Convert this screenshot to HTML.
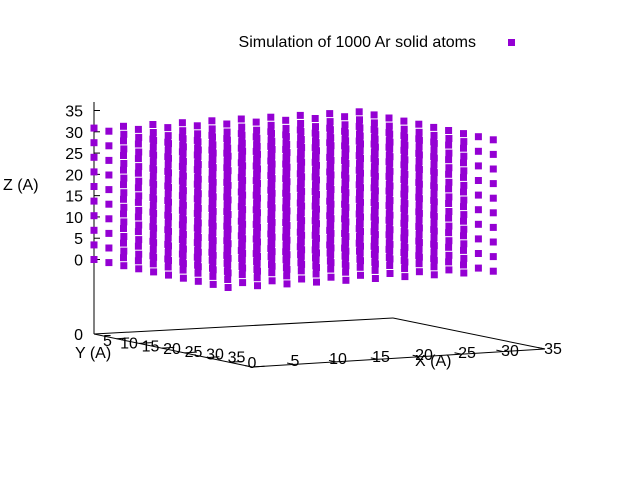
<!DOCTYPE html>
<html><head><meta charset="utf-8"><style>
html,body{margin:0;padding:0;background:#fff;}
svg{display:block;font-family:"Liberation Sans",sans-serif;font-size:16px;}
</style></head><body>
<svg id="chart" width="640" height="480" viewBox="0 0 640 480" xmlns="http://www.w3.org/2000/svg">
<rect width="640" height="480" fill="#fff"/>
<g id="axes" stroke="#000" stroke-width="1" fill="none">
<line x1="94" y1="334" x2="393" y2="318"/>
<line x1="393" y1="318" x2="545" y2="349"/>
<line x1="94" y1="334" x2="252" y2="367"/>
<line x1="252" y1="367" x2="545" y2="349"/>
<line x1="94" y1="334" x2="94" y2="102"/>
</g>
<g id="tickmarks" stroke="#000" stroke-width="1"></g>
<g id="ticks"></g>
<g id="points" fill="#9400d3"></g>
<text x="476" y="47" text-anchor="end">Simulation of 1000 Ar solid atoms</text>
<rect x="508" y="39" width="7" height="7" fill="#9400d3"/>
<text x="3" y="190">Z (A)</text>
<text x="75" y="358">Y (A)</text>
<text x="415" y="366">X (A)</text>
</svg>
<script>
const latticeSteps = [0,1,2,3,4,5,6,7,8,9];
const spacingX = [3.52];
const spacingY = [3.30];
const spacingZ = [3.43];
const xTicks = [0,5,10,15,20,25,30,35];
const yTicks = [5,10,15,20,25,30,35];
const zTicks = [0,5,10,15,20,25,30,35];

const NS="http://www.w3.org/2000/svg";
function sx(x,y){return 94 + x/35*293 + y/35*158;}
function sy(x,y,z){return 334 - x/35*18 + y/35*33 - (z+17.5)*4.257;}
const pts=document.getElementById('points');
for(const i of latticeSteps){for(const j of latticeSteps){for(const k of latticeSteps){
  const x=i*spacingX[0],y=j*spacingY[0],z=k*spacingZ[0];
  const r=document.createElementNS(NS,'rect');
  r.setAttribute('x',(sx(x,y)-3.5).toFixed(1));
  r.setAttribute('y',(sy(x,y,z)-3.5).toFixed(1));
  r.setAttribute('width','7');r.setAttribute('height','7');
  
  
  pts.appendChild(r);
}}}
const tk=document.getElementById('ticks');
const tm=document.getElementById('tickmarks');
function lbl(t,x,y,anchor,name){
  const e=document.createElementNS(NS,'text');
  e.setAttribute('x',x);e.setAttribute('y',y);e.setAttribute('text-anchor',anchor);
  e.textContent=t;
  
  
  tk.appendChild(e);
}
function tick(x1,y1,x2,y2,name){
  const l=document.createElementNS(NS,'line');
  l.setAttribute('x1',x1);l.setAttribute('y1',y1);l.setAttribute('x2',x2);l.setAttribute('y2',y2);
  
  
  tm.appendChild(l);
}
for(const z of zTicks){lbl(z,83,sy(0,0,z)+6,'end','z-tick-label');tick(94,sy(0,0,z),100,sy(0,0,z),'z-tick');}
lbl(0,83,340,'end','z-base-label');
for(const y of yTicks){lbl(y,86+y*4.3,343+y*0.55,'middle','y-tick-label');tick(sx(0,y),sy(0,y,-17.5),sx(1.5,y),sy(1.5,y,-17.5),'y-tick');}
for(const x of xTicks){lbl(x,252+x*8.6,368-x*0.4,'middle','x-tick-label');tick(sx(x,35),sy(x,35,-17.5),sx(x,33.5),sy(x,33.5,-17.5),'x-tick');}
</script>
</body></html>
